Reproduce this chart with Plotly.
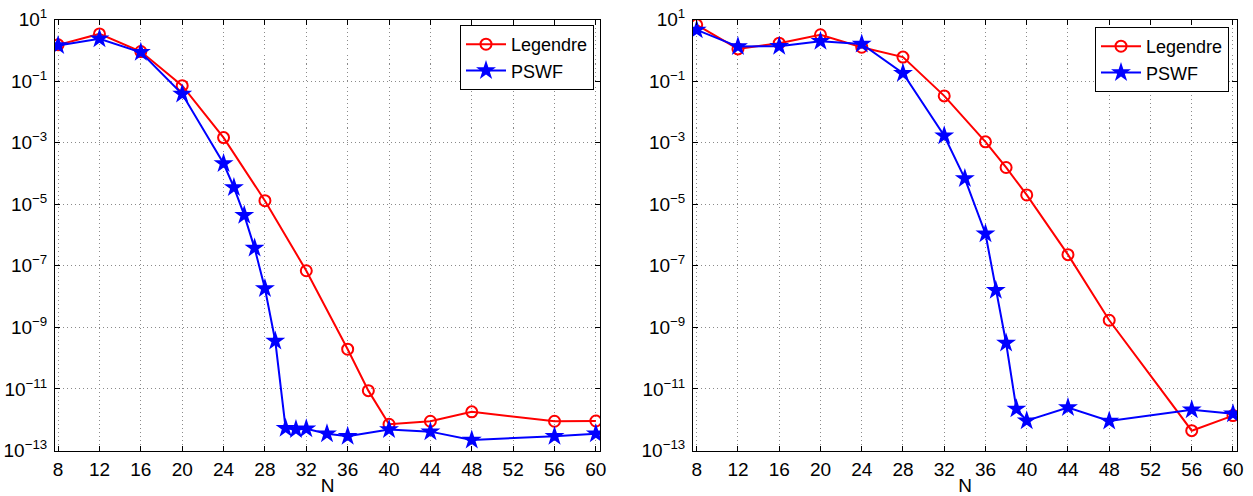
import plotly.graph_objects as go

# ---- data ----
N_left_leg = [8, 12, 16, 20, 24, 28, 32, 36, 38, 40, 44, 48, 56, 60]
err_left_leg = [1.5, 3.4, 0.91, 0.071, 1.46e-3, 1.3e-5, 6.9e-8, 1.95e-10, 8.8e-12,
                7.1e-13, 8.9e-13, 1.8e-12, 8.9e-13, 9.1e-13]
N_left_pswf = [8, 12, 16, 20, 24, 25, 26, 27, 28, 29, 30, 31, 32, 34, 36, 40, 44, 48, 56, 60]
err_left_pswf = [1.43, 2.36, 0.86, 0.038, 2.1e-4, 3.5e-5, 4.4e-6, 3.75e-7, 1.83e-8, 3.6e-10,
                 5.3e-13, 4.8e-13, 5.1e-13, 3.5e-13, 2.9e-13, 4.8e-13, 4.1e-13, 2.2e-13,
                 2.9e-13, 3.5e-13]

N_right_leg = [8, 12, 16, 20, 24, 28, 32, 36, 38, 40, 44, 48, 56, 60]
err_right_leg = [6.7, 1.11, 1.7, 3.2, 1.26, 0.6, 0.033, 1.06e-3, 1.56e-4, 2.0e-5, 2.3e-7,
                 1.7e-9, 4.4e-13, 1.36e-12]
N_right_pswf = [8, 12, 16, 20, 24, 28, 32, 34, 36, 37, 38, 39, 40, 44, 48, 56, 60]
err_right_pswf = [4.6, 1.32, 1.36, 1.98, 1.6, 0.18, 1.67e-3, 6.8e-5, 1.1e-6, 1.6e-8, 3.1e-10,
                  2.25e-12, 9.3e-13, 2.5e-12, 9.1e-13, 2.1e-12, 1.55e-12]

x_ticks = [8, 12, 16, 20, 24, 28, 32, 36, 40, 44, 48, 52, 56, 60]
y_exps = [1, -1, -3, -5, -7, -9, -11, -13]
y_ticks = [10.0 ** e for e in y_exps]
y_ticktext = ["10<sup>" + (str(e) if e >= 0 else "\u2212" + str(-e)) + "</sup>" for e in y_exps]

FONT = "Liberation Sans, Arial, Helvetica, sans-serif"
RED = "#ff0000"
BLUE = "#0000ff"

fig = go.Figure()

def add_pair(nl, el, np_, ep, xa, ya, legend):
    fig.add_trace(go.Scatter(
        x=nl, y=el, mode="lines+markers", name="Legendre",
        line=dict(color=RED, width=2),
        marker=dict(symbol="circle-open", size=11, color=RED, line=dict(width=2, color=RED)),
        xaxis=xa, yaxis=ya, legend=legend))
    fig.add_trace(go.Scatter(
        x=np_, y=ep, mode="lines+markers", name="PSWF",
        line=dict(color=BLUE, width=2),
        marker=dict(symbol="star", size=15, color=BLUE, line=dict(width=0)),
        xaxis=xa, yaxis=ya, legend=legend))

add_pair(N_left_leg, err_left_leg, N_left_pswf, err_left_pswf, "x", "y", "legend")
add_pair(N_right_leg, err_right_leg, N_right_pswf, err_right_pswf, "x2", "y2", "legend2")

ydom = [1 - 450.5 / 496, 1 - 19.5 / 496]

def xaxis(domain, rng, anchor):
    return dict(
        domain=domain, range=rng, anchor=anchor, automargin=False,
        tickmode="array", tickvals=x_ticks, ticktext=[str(v) for v in x_ticks],
        ticks="inside", ticklen=5, tickcolor="black", tickwidth=1,
        showline=True, linecolor="black", linewidth=1, mirror="ticks",
        showgrid=True, gridcolor="#8a8a8a", gridwidth=1, griddash="1px,3px",
        zeroline=False, ticklabelstandoff=2,
        tickfont=dict(family=FONT, size=19, color="black"),
        title=dict(text="N", font=dict(family=FONT, size=19, color="black"), standoff=2),
    )

def yaxis(anchor):
    return dict(
        domain=ydom, type="log", range=[-13, 1], anchor=anchor, automargin=False,
        tickmode="array", tickvals=y_ticks, ticktext=y_ticktext,
        ticks="inside", ticklen=5, tickcolor="black", tickwidth=1,
        showline=True, linecolor="black", linewidth=1, mirror="ticks",
        showgrid=True, gridcolor="#8a8a8a", gridwidth=1, griddash="1px,3px",
        zeroline=False, ticklabelstandoff=3,
        tickfont=dict(family=FONT, size=19, color="black"),
    )

legend_style = dict(
    bgcolor="white", bordercolor="black", borderwidth=1,
    font=dict(family=FONT, size=18, color="black"),
    xanchor="right", yanchor="top", tracegroupgap=0, itemwidth=40,
)

fig.update_layout(
    template="none",
    width=1253, height=496,
    margin=dict(l=0, r=0, t=0, b=0, autoexpand=False),
    paper_bgcolor="white", plot_bgcolor="white",
    showlegend=True,
    xaxis=xaxis([55 / 1253, 600 / 1253], [7.7, 60.4], "y"),
    yaxis=yaxis("x"),
    xaxis2=xaxis([693 / 1253, 1237 / 1253], [7.64, 60.39], "y2"),
    yaxis2=yaxis("x2"),
    legend=dict(x=594 / 1253, y=1 - 25 / 496, **legend_style),
    legend2=dict(x=1229 / 1253, y=1 - 27 / 496, **legend_style),
)

fig.write_html("out.html")
